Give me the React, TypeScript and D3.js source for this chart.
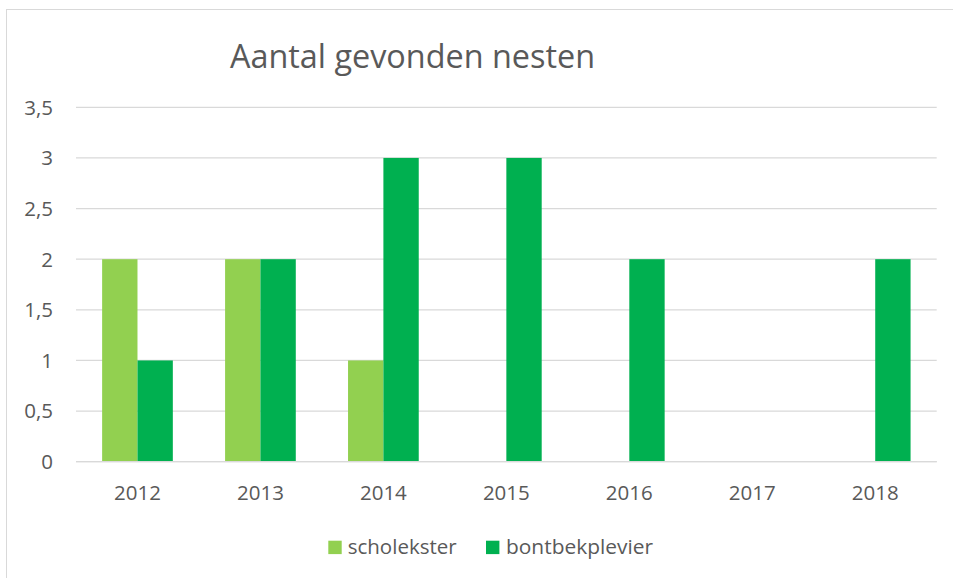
import React from 'react'
import * as d3 from 'd3'

const YEARS = ['2012', '2013', '2014', '2015', '2016', '2017', '2018']
const SCHOLEKSTER = [2, 2, 1, 0, 0, 0, 0]
const BONTBEKPLEVIER = [1, 2, 3, 3, 2, 0, 2]
const Y_TICKS = [0, 0.5, 1, 1.5, 2, 2.5, 3, 3.5]

const SERIES = [
  { name: 'scholekster', values: SCHOLEKSTER, color: '#92D050' },
  { name: 'bontbekplevier', values: BONTBEKPLEVIER, color: '#00B050' }
]

const W = 953
const H = 578
const FONT = '"Open Sans", "DejaVu Sans", sans-serif'
const TEXT = '#595959'
const GRID = '#d9d9d9'
const FS = 20.5

export default function App() {
  const x = d3.scaleBand<string>()
    .domain(YEARS)
    .range([76, 936.7])
    .paddingInner(0.425)
    .paddingOuter(0.2125)

  const xs = d3.scaleBand<string>()
    .domain(SERIES.map(s => s.name))
    .range([0, x.bandwidth()])

  const y = d3.scaleLinear().domain([0, 3.5]).range([461.7, 107.3])

  const fmt = (v: number) => String(v).replace('.', ',')

  return (
    <div style={{ position: 'fixed', left: 0, top: 0 }}>
      <svg width={W} height={H} style={{ display: 'block', background: '#fff' }}>
        <rect x={6.5} y={9.5} width={1000} height={1000} fill="#fff" stroke={GRID} strokeWidth={1} />

        <text x={412.5} y={68} textAnchor="middle" fill={TEXT} fontFamily={FONT} fontSize={33}
          textLength={365} lengthAdjust="spacingAndGlyphs">
          Aantal gevonden nesten
        </text>

        {/* gridlines + y labels */}
        {Y_TICKS.map(t => (
          <g key={t}>
            <line x1={76} x2={936.7} y1={y(t)} y2={y(t)} stroke={GRID} strokeWidth={1.3} />
            <text x={53} y={y(t)} dy="0.36em" textAnchor="end" fill={TEXT} fontFamily={FONT} fontSize={FS}>
              {fmt(t)}
            </text>
          </g>
        ))}

        {/* bars */}
        {YEARS.map((yr, i) => (
          <g key={yr} transform={`translate(${x(yr)},0)`}>
            {SERIES.map(s => s.values[i] > 0 && (
              <rect key={s.name}
                x={xs(s.name)}
                y={y(s.values[i])}
                width={xs.bandwidth()}
                height={y(0) - y(s.values[i])}
                fill={s.color}
              />
            ))}
          </g>
        ))}

        {/* baseline over bars */}
        <line x1={76} x2={936.7} y1={y(0)} y2={y(0)} stroke={GRID} strokeWidth={1.3} />

        {/* x labels */}
        {YEARS.map(yr => (
          <text key={yr} x={(x(yr) ?? 0) + x.bandwidth() / 2} y={500} textAnchor="middle"
            fill={TEXT} fontFamily={FONT} fontSize={FS}>
            {yr}
          </text>
        ))}

        {/* legend */}
        <g>
          <rect x={328.3} y={540.7} width={13.4} height={13.4} fill={SERIES[0].color} />
          <text x={347.7} y={554} fill={TEXT} fontFamily={FONT} fontSize={FS}
            textLength={109} lengthAdjust="spacingAndGlyphs">{SERIES[0].name}</text>
          <rect x={486} y={540.7} width={13.4} height={13.4} fill={SERIES[1].color} />
          <text x={506} y={554} fill={TEXT} fontFamily={FONT} fontSize={FS}
            textLength={147} lengthAdjust="spacingAndGlyphs">{SERIES[1].name}</text>
        </g>
      </svg>
    </div>
  )
}
